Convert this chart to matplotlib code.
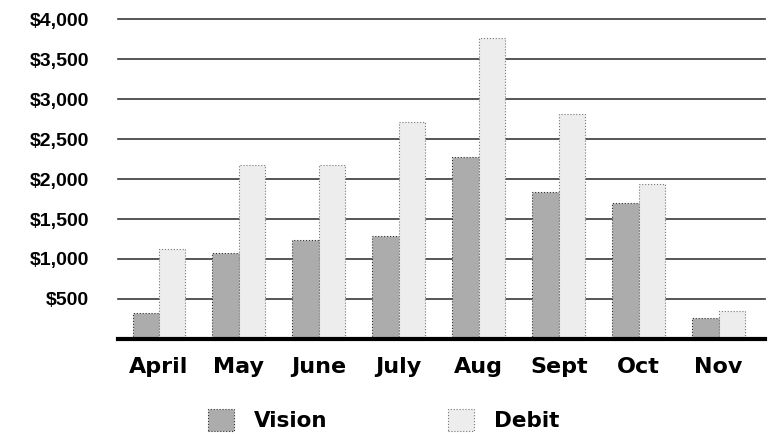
import numpy as np
import matplotlib
matplotlib.use("Agg")
import matplotlib.pyplot as plt
from matplotlib.ticker import FuncFormatter, FixedLocator

# values
months = ["April", "May", "June", "July", "Aug", "Sept", "Oct", "Nov"]
vision = [325, 1070, 1240, 1290, 2275, 1835, 1700, 265]
debit = [1125, 2175, 2175, 2710, 3760, 2810, 1940, 350]
y_ticks = [500, 1000, 1500, 2000, 2500, 3000, 3500, 4000]

plt.rcParams['font.family'] = ['DejaVu Sans']

fig = plt.figure(figsize=(7.72, 4.34), dpi=100)
ax = fig.add_axes([0.153, 0.219, 0.838, 0.737])

x = np.arange(len(months))
w = 0.33

ax.bar(x - w / 2, vision, width=w, color='#acacac', edgecolor='#333333',
       linewidth=0.8, linestyle=':', label='Vision', zorder=3)
ax.bar(x + w / 2, debit, width=w, color='#ededed', edgecolor='#777777',
       linewidth=0.8, linestyle=':', label='Debit', zorder=3)

# horizontal grid lines (top one unclipped so it shows full width)
for yv in y_ticks:
    ax.axhline(yv, color='#3a3a3a', linewidth=1.2, zorder=1, clip_on=False)

ax.set_xlim(-0.51, 7.58)
ax.set_ylim(0, 4000)

ax.yaxis.set_major_locator(FixedLocator(y_ticks))
ax.yaxis.set_major_formatter(FuncFormatter(lambda v, p: f"${int(v):,}"))
ax.set_xticks(x)
ax.set_xticklabels(months)

ax.tick_params(axis='y', length=0, pad=21)
ax.tick_params(axis='x', length=0, pad=13)
for lbl in ax.get_yticklabels():
    lbl.set_fontfamily(['Liberation Sans', 'DejaVu Sans'])
    lbl.set_fontsize(14)
    lbl.set_fontweight('bold')
for lbl in ax.get_xticklabels():
    lbl.set_fontsize(16)
    lbl.set_fontweight('bold')

for side in ['top', 'right', 'left']:
    ax.spines[side].set_visible(False)
ax.spines['bottom'].set_linewidth(3)
ax.spines['bottom'].set_color('black')
ax.spines['bottom'].set_zorder(4)

fig.legend(loc='center', bbox_to_anchor=(0.497, 0.032), ncol=2, frameon=False,
           prop={'weight': 'bold', 'size': 15.5}, handlelength=1.2,
           handleheight=1.2, handletextpad=0.93, columnspacing=5.6)

fig.savefig('out.png', dpi=100)
